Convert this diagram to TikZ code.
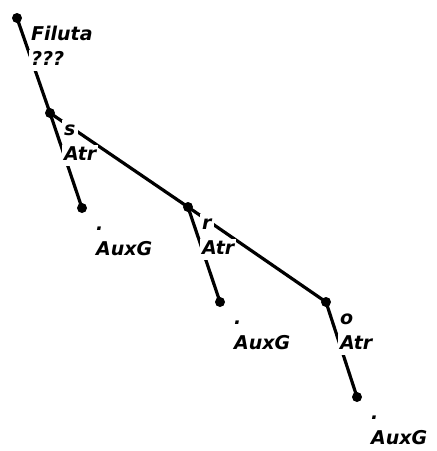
\documentclass[tikz,border=0pt]{standalone}
\usepackage{fontspec}
\newfontfamily\labfont{DejaVu Sans}
\tikzset{
  tdot/.style={circle, fill=black, inner sep=0pt, minimum size=10pt},
  tedge/.style={line width=3.2pt},
  tlab/.style={fill=white, anchor=base west, inner xsep=2pt, inner ysep=1pt,
    text height=14pt, text depth=5pt,
    font=\labfont\bfseries\itshape\fontsize{19}{19}\selectfont}
}
\newcommand{\tlabels}[3]{%
  \node[tlab] (#1-a) at ([shift={(12,22)}]#1.center) {#2};
  \node[tlab] (#1-b) at ([shift={(12,47)}]#1.center) {#3};
}
\begin{document}
\begin{tikzpicture}[x=1pt,y=-1pt]
\useasboundingbox[fill=white] (0,0) rectangle (437,451);
% tree nodes
\node[tdot] (root) at (17,18) {};
\node[tdot] (s) at (50,113) {};
\node[tdot] (g1) at (82,208) {};
\node[tdot] (r) at (188,207) {};
\node[tdot] (g2) at (220,302) {};
\node[tdot] (o) at (326,302) {};
\node[tdot] (g3) at (357,397) {};
% edges
\draw[tedge] (root.center) -- (s.center);
\draw[tedge] (s.center) -- (g1.center);
\draw[tedge] (s.center) -- (r.center);
\draw[tedge] (r.center) -- (g2.center);
\draw[tedge] (r.center) -- (o.center);
\draw[tedge] (o.center) -- (g3.center);
% labels
\tlabels{root}{Filuta}{???}
\tlabels{s}{s}{Atr}
\tlabels{g1}{.}{AuxG}
\tlabels{r}{r}{Atr}
\tlabels{g2}{.}{AuxG}
\tlabels{o}{o}{Atr}
\tlabels{g3}{.}{AuxG}
\end{tikzpicture}
\end{document}
